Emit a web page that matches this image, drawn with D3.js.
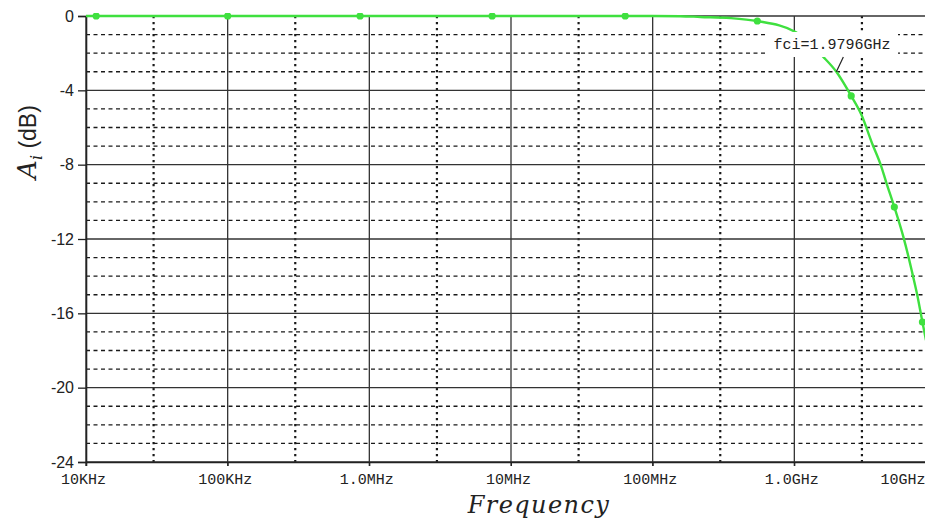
<!DOCTYPE html>
<html>
<head>
<meta charset="utf-8">
<script src="https://cdn.jsdelivr.net/npm/d3@7"></script>
<style>
  body { margin: 0; background: #fff; }
</style>
</head>
<body>
<div class="chart"></div>
<script>
// curve (Hz, dB)
const freqHz = [1e4, 1e6, 1e8, 1.57e8, 2.17e8, 3.53e8, 5.48e8, 1.02e9, 1.6e9, 1.98e9,
    2.52e9, 2.97e9, 3.56e9, 4.05e9, 4.47e9, 5.08e9, 5.89e9, 6.39e9, 6.81e9, 7.39e9,
    8.02e9, 8.5e9];
const gainDb = [0, 0, 0, -0.01, -0.05, -0.11, -0.27, -0.86, -2.2, -3.0,
    -4.3, -5.3, -6.9, -7.96, -8.99, -10.28, -11.9, -12.95, -13.85, -15.05,
    -16.47, -17.45];

// marker dots on the trace
const markerHz = [1.18e4, 1.0e5, 8.6e5, 7.36e6, 6.4e7, 5.48e8, 2.52e9, 5.08e9, 8.02e9];
const markerDb = [0, 0, 0, 0, 0, -0.27, -4.3, -10.28, -16.47];

const decades = [1e4, 1e5, 1e6, 1e7, 1e8, 1e9, 1e10];
const decadeLabels = ['10KHz', '100KHz', '1.0MHz', '10MHz', '100MHz', '1.0GHz', '10GHz'];
const yTicks = [0, -4, -8, -12, -16, -20, -24];
const fcLabel = 'fci=1.9796GHz';
const fcHz = 1.9796e9;

const width = 925;
const height = 520;
const plotLeft = 86, plotRight = 936, plotTop = 16, plotBottom = 462;

const svg = d3.select('.chart')
    .append('svg')
    .attr('width', width)
    .attr('height', height)
    .style('background', '#fff');

const x = d3.scaleLog().domain([1e4, 1e10]).range([plotLeft, plotRight]);
const y = d3.scaleLinear().domain([-24, 0]).range([plotBottom, plotTop]);

const grid = svg.append('g');

// horizontal grid: solid every 4 dB, dashed in between
const dbSteps = d3.range(-23, 1);
grid.selectAll('.hgrid')
    .data(dbSteps.filter(d => d % 4 !== 0))
    .enter()
    .append('line')
    .attr('x1', plotLeft).attr('x2', plotRight)
    .attr('y1', d => y(d)).attr('y2', d => y(d))
    .attr('stroke', '#1a1a1a')
    .attr('stroke-width', 1.4)
    .attr('stroke-dasharray', '4,3.5');

// vertical dotted lines at 3x of each decade
grid.selectAll('.vminor')
    .data(decades.slice(0, -1).map(d => d * 3))
    .enter()
    .append('line')
    .attr('x1', d => x(d)).attr('x2', d => x(d))
    .attr('y1', plotTop).attr('y2', plotBottom)
    .attr('stroke', '#1a1a1a')
    .attr('stroke-width', 2.2)
    .attr('stroke-dasharray', '2.2,3.8');

grid.selectAll('.hmajor')
    .data(yTicks)
    .enter()
    .append('line')
    .attr('x1', plotLeft).attr('x2', plotRight)
    .attr('y1', d => y(d)).attr('y2', d => y(d))
    .attr('stroke', '#333')
    .attr('stroke-width', 1.3);

grid.selectAll('.vmajor')
    .data(decades)
    .enter()
    .append('line')
    .attr('x1', d => x(d)).attr('x2', d => x(d))
    .attr('y1', plotTop).attr('y2', plotBottom + 4)
    .attr('stroke', '#333')
    .attr('stroke-width', 1.3);

// axes
const yAxis = svg.append('g')
    .attr('transform', `translate(${plotLeft},0)`)
    .call(d3.axisLeft(y).tickValues(yTicks).tickSize(8).tickFormat(d => String(d)));
yAxis.select('.domain').attr('stroke', '#222').attr('stroke-width', 1.6);
yAxis.selectAll('.tick line').attr('stroke', '#222').attr('stroke-width', 1.3);
yAxis.selectAll('.tick text')
    .attr('x', -12)
    .attr('font-family', 'Liberation Sans, Arial, sans-serif')
    .attr('font-size', '16px')
    .attr('fill', '#222');

const xAxis = svg.append('g')
    .attr('transform', `translate(0,${plotBottom})`)
    .call(d3.axisBottom(x).tickValues(decades).tickSize(4).tickFormat((d, i) => decadeLabels[i]));
xAxis.select('.domain').attr('stroke', '#222').attr('stroke-width', 1.6);
xAxis.selectAll('.tick line').attr('stroke', '#222');
xAxis.selectAll('.tick text')
    .attr('y', 11)
    .attr('dx', -3)
    .attr('font-family', 'Liberation Mono, Courier New, monospace')
    .attr('font-size', '15px')
    .attr('fill', '#222');
// last label pulled in so it stays inside the window
xAxis.selectAll('.tick text')
    .filter((d, i) => i === decades.length - 1)
    .attr('text-anchor', 'start')
    .attr('dx', 0)
    .attr('x', 880 - x(1e10));

// trace
const points = freqHz.map((f, i) => [f, gainDb[i]]);
svg.append('clipPath').attr('id', 'plot-clip')
    .append('rect').attr('x', plotLeft).attr('y', plotTop - 3)
    .attr('width', plotRight - plotLeft).attr('height', plotBottom - plotTop + 6);

const plot = svg.append('g').attr('clip-path', 'url(#plot-clip)');
plot.append('path')
    .datum(points)
    .attr('d', d3.line().x(d => x(d[0])).y(d => y(d[1])).curve(d3.curveMonotoneX))
    .attr('fill', 'none')
    .attr('stroke', '#3fe03f')
    .attr('stroke-width', 2.4);

plot.selectAll('.marker')
    .data(markerHz)
    .enter()
    .append('circle')
    .attr('cx', d => x(d))
    .attr('cy', (d, i) => y(markerDb[i]))
    .attr('r', 3.6)
    .attr('fill', '#3fe03f');

// cutoff annotation
const lblX = 832, lblY = 44;
const note = svg.append('g');
note.append('rect')
    .attr('x', lblX - 65).attr('y', lblY - 12)
    .attr('width', 131).attr('height', 25)
    .attr('fill', '#fff');
note.append('text')
    .attr('x', lblX).attr('y', lblY + 5)
    .attr('text-anchor', 'middle')
    .attr('font-family', 'Liberation Mono, Courier New, monospace')
    .attr('font-size', '15px')
    .attr('fill', '#222')
    .text(fcLabel);
note.append('line')
    .attr('x1', x(fcHz) + 7).attr('y1', 57)
    .attr('x2', x(fcHz)).attr('y2', y(-3))
    .attr('stroke', '#222')
    .attr('stroke-width', 1.2);

// axis titles
svg.append('text')
    .attr('x', 539).attr('y', 513)
    .attr('text-anchor', 'middle')
    .attr('font-family', 'DejaVu Serif, serif')
    .attr('font-style', 'italic')
    .attr('font-size', '24px')
    .attr('letter-spacing', '1.4px')
    .attr('fill', '#222')
    .text('Frequency');

const yTitle = svg.append('text')
    .attr('transform', 'translate(36,142) rotate(-90)')
    .attr('text-anchor', 'middle')
    .attr('fill', '#222');
yTitle.append('tspan')
    .attr('font-family', 'DejaVu Serif, serif')
    .attr('font-style', 'italic')
    .attr('font-size', '26px')
    .text('A');
yTitle.append('tspan')
    .attr('font-family', 'DejaVu Serif, serif')
    .attr('font-style', 'italic')
    .attr('font-size', '16px')
    .attr('dy', 6)
    .text('i');
yTitle.append('tspan')
    .attr('font-family', 'Liberation Sans, Arial, sans-serif')
    .attr('font-size', '23px')
    .attr('dy', -6)
    .text(' (dB)');
</script>
</body>
</html>
